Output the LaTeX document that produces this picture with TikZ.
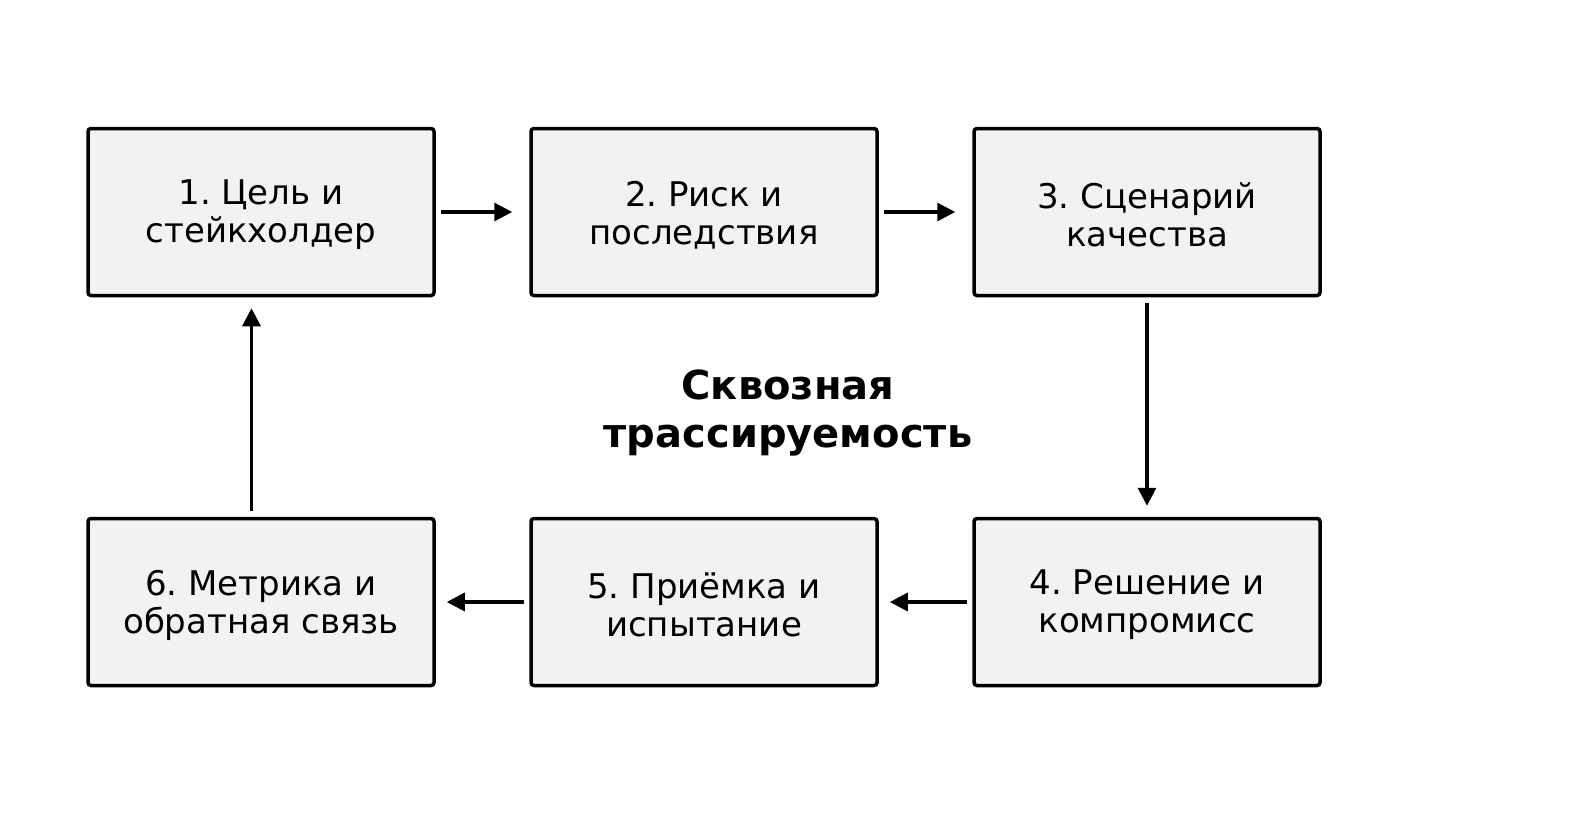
\documentclass[tikz,border=0pt]{standalone}
\usepackage{fontspec}
\setmainfont{DejaVu Sans}
\frenchspacing
\usetikzlibrary{arrows.meta}
\definecolor{boxfill}{HTML}{F2F2F2}
\tikzset{
  stage/.style={draw=black, fill=boxfill, line width=3.5pt, rounded corners=3pt,
    minimum width=346pt, minimum height=167pt, inner sep=0pt},
  stagetext/.style={align=center, inner sep=0pt, font=\fontsize{34}{38}\selectfont},
  flow/.style={line width=3.2pt, -{Triangle[length=18pt,width=18pt]}},
}
\begin{document}
\begin{tikzpicture}[x=1pt,y=-1pt]
\useasboundingbox (0,0) rectangle (1578,823);
\node[stage] (b1) at (261,212) {};
\node[stage] (b2) at (704,212) {};
\node[stage] (b3) at (1147,212) {};
\node[stage] (b4) at (1147,602) {};
\node[stage] (b5) at (704,602) {};
\node[stage] (b6) at (261,602) {};
\node[stagetext] (t1) at ([yshift=-3pt]b1.center) {1. Цель и\\стейкхолдер};
\node[stagetext] (t2) at ([yshift=-3pt]b2.center) {2. Риск и\\последствия};
\node[stagetext] (t3) at ([yshift=-3pt]b3.center) {3. Сценарий\\качества};
\node[stagetext] (t4) at ([yshift=-3pt]b4.center) {4. Решение и\\компромисс};
\node[stagetext] (t5) at ([yshift=-3pt]b5.center) {5. Приёмка и\\испытание};
\node[stagetext] (t6) at ([yshift=-3pt]b6.center) {6. Метрика и\\обратная связь};
\node[align=center, font=\bfseries\fontsize{40}{47.5}\selectfont] (t) at (788,413) {Сквозная\\трассируемость};
\draw[flow, shorten <=5pt, shorten >=17pt] (b1.east) -- (b2.west);
\draw[flow, shorten <=5pt, shorten >=17pt] (b2.east) -- (b3.west);
\draw[flow, shorten <=6pt, shorten >=11pt] (b3.south) -- (b4.north);
\draw[flow, shorten <=5pt, shorten >=11pt] (b4.west) -- (b5.east);
\draw[flow, shorten <=5pt, shorten >=11pt] (b5.west) -- (b6.east);
\draw[flow, shorten <=6pt, shorten >=11pt] ([xshift=-9.5pt]b6.north) -- ([xshift=-9.5pt]b1.south);
\end{tikzpicture}
\end{document}
